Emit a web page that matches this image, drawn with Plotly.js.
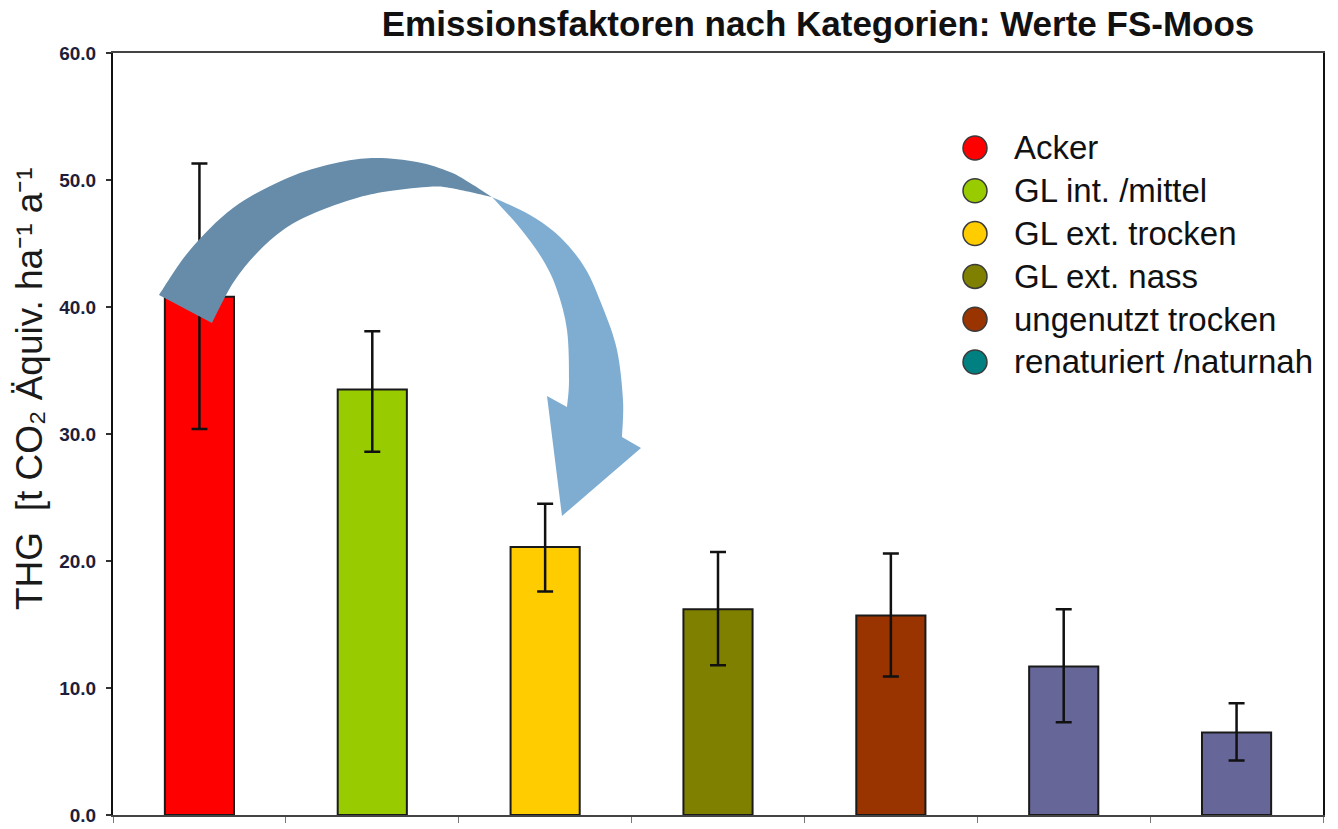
<!DOCTYPE html>
<html>
<head>
<meta charset="utf-8">
<script src="https://cdn.plot.ly/plotly-3.0.1.min.js"></script>
<style>
  html, body { margin: 0; padding: 0; background: #ffffff; }
  #chart { width: 1338px; height: 829px; }
</style>
</head>
<body>
<div id="chart"></div>
<script>
// ---- data ----
const barPositions = [1, 2, 3, 4, 5, 6, 7];
const barValues   = [40.8, 33.5, 21.1, 16.2, 15.7, 11.7, 6.5];
const errPlus     = [10.5, 4.6, 3.4, 4.5, 4.9, 4.5, 2.3];
const errMinus    = [10.4, 4.9, 3.5, 4.4, 4.8, 4.4, 2.2];
const barColors   = ['#FF0000', '#99CC00', '#FFCC00', '#808000', '#993300', '#666699', '#666699'];

const legendLabels = ['Acker', 'GL int. /mittel', 'GL ext. trocken', 'GL ext. nass', 'ungenutzt trocken', 'renaturiert /naturnah'];
const legendColors = ['#FF0000', '#99CC00', '#FFCC00', '#808000', '#993300', '#008080'];

const yTickValues = [0, 10, 20, 30, 40, 50, 60];
const xBoundaryTicks = [0.5, 1.5, 2.5, 3.5, 4.5, 5.5, 6.5, 7.5];

const chartTitle = 'Emissionsfaktoren nach Kategorien: Werte FS-Moos';
const yTitle = 'THG  [t CO\u2082 Äquiv. ha\u207B\u00B9 a\u207B\u00B9';

// ---- page geometry ----
const W = 1338, H = 829;
const M = { l: 113, r: 15, t: 53, b: 14 };
const plotW = W - M.l - M.r, plotH = H - M.t - M.b;
const pxX = x => (x - M.l) / plotW;
const pxY = y => (H - M.b - y) / plotH;
const toPaper = p => [pxX(p[0]), pxY(p[1])];

// ---- decorative curved arrow outline (reference pixel positions) ----
const arrowDarkOuter = [[159,295],[190,250],[233,208],[283,180],[327,165],[372,158],[417,162],[450,172],[470,183],[492,197]];
const arrowDarkInner = [[492,197],[450,188],[427,187],[383,192],[350,200],[310,215],[283,230],[257,253],[233,283],[212,323]];
const arrowLightOuter = [[492,197],[530,215],[560,237],[585,268],[603,308],[617,350],[623,400],[622,437]];
const arrowHead = [[641,448],[562,516],[547,396],[567,407]];
const arrowLightInner = [[567,407],[569,380],[567,330],[557,290],[543,260],[520,228],[492,197]];

function fmt(p) { return p[0].toFixed(5) + ',' + p[1].toFixed(5); }
function smooth(pts, start) {
  const P = pts.map(toPaper);
  let s = (start ? 'M' : 'L') + fmt(P[0]);
  for (let i = 0; i < P.length - 1; i++) {
    const p0 = P[Math.max(0, i - 1)], p1 = P[i], p2 = P[i + 1], p3 = P[Math.min(P.length - 1, i + 2)];
    const c1 = [p1[0] + (p2[0] - p0[0]) / 6, p1[1] + (p2[1] - p0[1]) / 6];
    const c2 = [p2[0] - (p3[0] - p1[0]) / 6, p2[1] - (p3[1] - p1[1]) / 6];
    s += ' C' + fmt(c1) + ' ' + fmt(c2) + ' ' + fmt(p2);
  }
  return s;
}
function straight(pts) { return pts.map(p => ' L' + fmt(toPaper(p))).join(''); }

const darkPath = smooth(arrowDarkOuter, true) + ' ' + smooth(arrowDarkInner, false) + ' Z';
const lightPath = smooth(arrowLightOuter, true) + straight(arrowHead) + ' ' + smooth(arrowLightInner, false) + ' Z';

// ---- traces ----
const traces = [{
  type: 'bar',
  x: barPositions,
  y: barValues,
  width: 0.4,
  marker: { color: barColors, line: { color: '#1a1a1a', width: 2 } },
  error_y: { type: 'data', symmetric: false, array: errPlus, arrayminus: errMinus,
             color: '#111111', thickness: 2.5, width: 8 },
  showlegend: false,
  hoverinfo: 'y'
}];

// ---- legend (drawn as circle shapes + text annotations, as in the reference) ----
const legendTop = 148, legendStep = 42.8, legendMarkX = 975, legendTextX = 1012;
const legendShapes = legendLabels.map((name, i) => ({
  type: 'circle', xref: 'paper', yref: 'paper',
  xsizemode: 'pixel', ysizemode: 'pixel',
  xanchor: pxX(legendMarkX), yanchor: pxY(legendTop + i * legendStep),
  x0: -12, x1: 12, y0: -12, y1: 12,
  fillcolor: legendColors[i], line: { color: '#3a3a3a', width: 1.5 }, layer: 'above'
}));
const legendAnnotations = legendLabels.map((name, i) => ({
  text: name, xref: 'paper', yref: 'paper',
  x: pxX(legendTextX), y: pxY(legendTop + i * legendStep),
  xanchor: 'left', yanchor: 'middle', showarrow: false,
  font: { family: 'Liberation Sans, Arial, sans-serif', size: 33, color: '#111111' }
}));

const layout = {
  width: W, height: H,
  margin: M,
  paper_bgcolor: '#ffffff',
  plot_bgcolor: '#ffffff',
  font: { family: 'Liberation Sans, Arial, sans-serif', color: '#111111' },
  showlegend: false,
  title: {
    text: chartTitle,
    font: { family: 'Liberation Sans, Arial, sans-serif', size: 35, weight: 'bold', color: '#111111' },
    x: pxX(818), xanchor: 'center', xref: 'paper',
    y: 1 - 24 / H, yanchor: 'middle'
  },
  xaxis: {
    type: 'linear', range: [0.5, 7.5],
    tickmode: 'array', tickvals: xBoundaryTicks, showticklabels: false,
    ticks: 'outside', ticklen: 6, tickwidth: 1, tickcolor: '#777777',
    showline: true, linecolor: '#444444', linewidth: 2, mirror: true,
    showgrid: false, zeroline: false, fixedrange: true
  },
  yaxis: {
    range: [0, 60],
    tickmode: 'array', tickvals: yTickValues, tickformat: '.1f',
    ticks: 'outside', ticklen: 5, tickwidth: 1.5, tickcolor: '#333333',
    ticklabelstandoff: 6,
    tickfont: { family: 'Liberation Sans, Arial, sans-serif', size: 19, weight: 'bold', color: '#1e1e3a' },
    showline: true, linecolor: '#111111', linewidth: 2, mirror: true,
    showgrid: false, zeroline: false, fixedrange: true
  },
  annotations: [{
    text: yTitle, xref: 'paper', yref: 'paper',
    x: pxX(29), y: pxY(389), xanchor: 'center', yanchor: 'middle',
    textangle: -90, showarrow: false,
    font: { family: 'Liberation Sans, Arial, sans-serif', size: 37, color: '#1a1a1a' }
  }].concat(legendAnnotations),
  shapes: [
    { type: 'path', xref: 'paper', yref: 'paper', path: darkPath,
      fillcolor: '#668CAA', line: { width: 0 }, layer: 'above' },
    { type: 'path', xref: 'paper', yref: 'paper', path: lightPath,
      fillcolor: '#7FADD2', line: { width: 0 }, layer: 'above' }
  ].concat(legendShapes)
};

Plotly.newPlot('chart', traces, layout, { displayModeBar: false, staticPlot: true });
</script>
</body>
</html>
